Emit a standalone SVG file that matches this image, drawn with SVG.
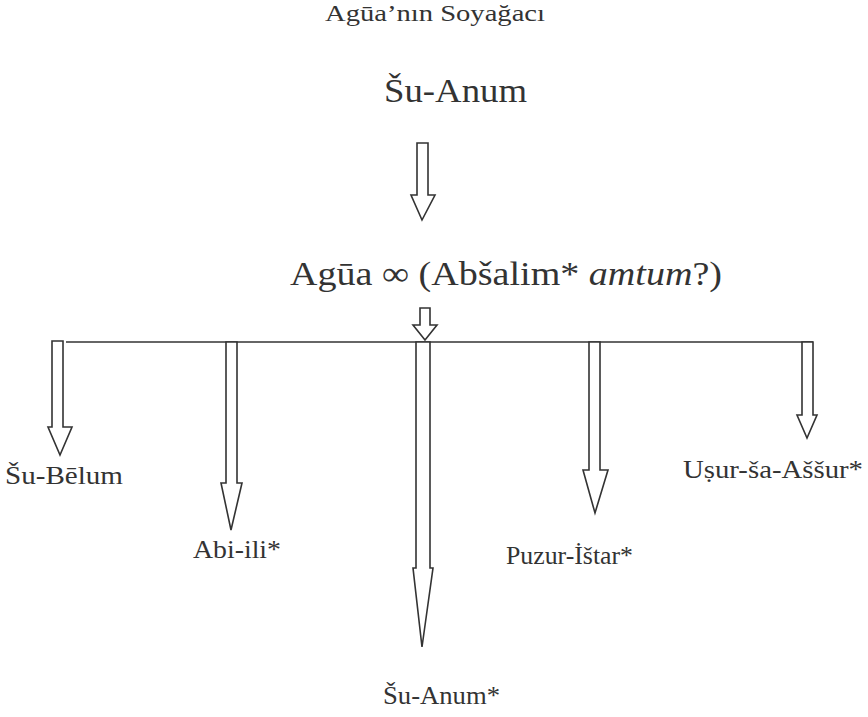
<svg xmlns="http://www.w3.org/2000/svg" width="868" height="717" viewBox="0 0 868 717">
<style>
.t{font-size:23px;}
.big{font-size:34px;}
.lb{font-size:26px;}
.txt{fill:#333;font-family:'Liberation Serif','Times New Roman',serif;}
.arr{fill:#fff;stroke:#333;stroke-width:1.6;stroke-linejoin:miter;}
.ln{stroke:#333;stroke-width:1.6;fill:none;}
</style>
<rect width="868" height="717" fill="#fff"/>
<g id="title"><text class="txt t" x="325" y="21" textLength="220" lengthAdjust="spacingAndGlyphs">Agūa’nın Soyağacı</text></g>
<g id="n-suanum"><text class="txt big" x="384" y="102" textLength="143" lengthAdjust="spacingAndGlyphs">Šu-Anum</text></g>
<g id="n-agua"><text class="txt big" x="290" y="285" textLength="432" lengthAdjust="spacingAndGlyphs">Agūa ∞ (Abšalim* <tspan font-style="italic">amtum</tspan>?)</text></g>
<g id="n-subelum"><text class="txt lb" x="5" y="484" textLength="118" lengthAdjust="spacingAndGlyphs">Šu-Bēlum</text></g>
<g id="n-abiili"><text class="txt lb" x="193" y="558" textLength="88" lengthAdjust="spacingAndGlyphs">Abi-ili*</text></g>
<g id="n-suanum2"><text class="txt lb" x="383" y="704" textLength="117" lengthAdjust="spacingAndGlyphs">Šu-Anum*</text></g>
<g id="n-puzuristar"><text class="txt lb" x="506" y="564" textLength="127" lengthAdjust="spacingAndGlyphs">Puzur-İštar*</text></g>
<g id="n-usur"><text class="txt lb" x="683" y="478" textLength="180" lengthAdjust="spacingAndGlyphs">Uṣur-ša-Aššur*</text></g>
<g id="connectors">
<path class="arr" d="M417,143 H428 V195 H435 L422,220 L411,195 H417 Z"/>
<path class="arr" d="M420,308 H430 V325 H437 L425,340 L413,325 H420 Z"/>
<path class="ln" d="M66,342 H813"/>
<path class="arr" d="M52,341 H63 V427 H72 L60,455 L48,427 H52 Z"/>
<path class="arr" d="M226,342 H237 V483 H242 L231,530 L221,483 H226 Z"/>
<path class="arr" d="M416,342 H430 V568 H433 L422,647 L413,568 H416 Z"/>
<path class="arr" d="M589,342 H600 V470 H608 L595,513 L583,470 H589 Z"/>
<path class="arr" d="M802,342 H813 V415 H817 L807,438 L797,415 H802 Z"/>
</g>
</svg>
